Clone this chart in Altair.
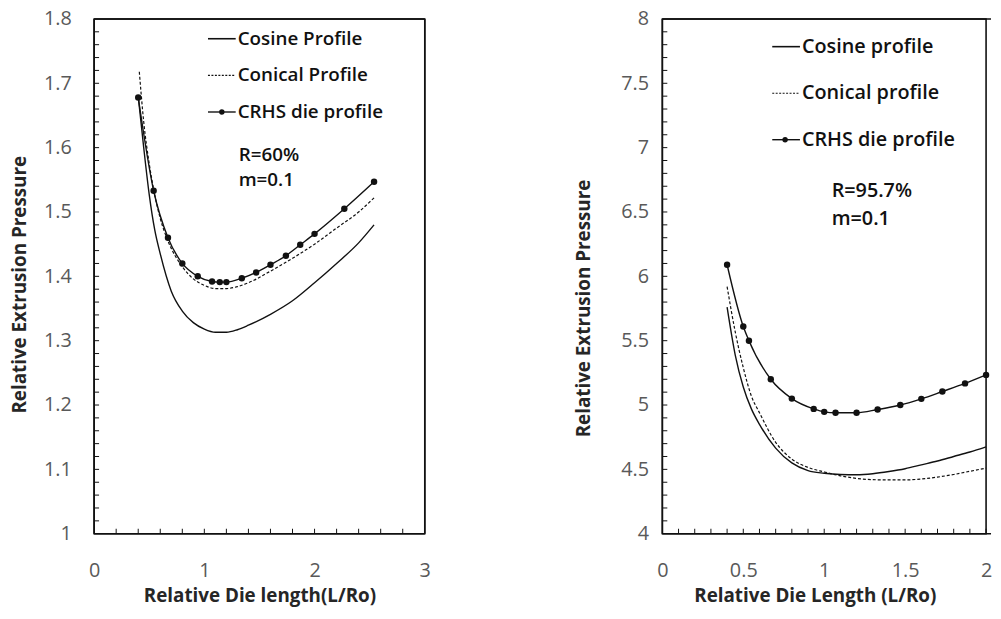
import altair as alt
import pandas as pd

# ---------------- Left panel (R=60%, m=0.1) ----------------
L_cos_x = [0.40, 0.45, 0.50, 0.55, 0.60, 0.70, 0.80, 0.90, 1.00, 1.10, 1.20, 1.30, 1.40, 1.60, 1.80, 2.00, 2.20, 2.40, 2.54]
L_cos_y = [1.680, 1.600, 1.527, 1.472, 1.435, 1.377, 1.346, 1.328, 1.318, 1.313, 1.313, 1.317, 1.324, 1.341, 1.362, 1.390, 1.420, 1.452, 1.480]

L_con_x = [0.41, 0.45, 0.50, 0.54, 0.60, 0.67, 0.80, 0.90, 1.00, 1.10, 1.20, 1.30, 1.40, 1.60, 1.80, 2.00, 2.20, 2.40, 2.54]
L_con_y = [1.718, 1.640, 1.575, 1.535, 1.490, 1.455, 1.415, 1.396, 1.386, 1.381, 1.381, 1.384, 1.390, 1.408, 1.428, 1.450, 1.475, 1.500, 1.522]

L_crhs_x = [0.40, 0.54, 0.67, 0.80, 0.94, 1.07, 1.14, 1.20, 1.34, 1.47, 1.60, 1.74, 1.87, 2.00, 2.27, 2.54]
L_crhs_y = [1.678, 1.533, 1.460, 1.420, 1.400, 1.392, 1.391, 1.391, 1.397, 1.406, 1.418, 1.432, 1.449, 1.466, 1.505, 1.547]

L_xlabels = [0, 1, 2, 3]
L_ylabels = [1.0, 1.1, 1.2, 1.3, 1.4, 1.5, 1.6, 1.7, 1.8]
L_xminor = [0.2, 0.4, 0.6, 0.8, 1.0, 1.2, 1.4, 1.6, 1.8, 2.0, 2.2, 2.4, 2.6, 2.8]
L_yminor = [1.02, 1.04, 1.06, 1.08, 1.10, 1.12, 1.14, 1.16, 1.18, 1.20, 1.22, 1.24, 1.26, 1.28,
            1.30, 1.32, 1.34, 1.36, 1.38, 1.40, 1.42, 1.44, 1.46, 1.48, 1.50, 1.52, 1.54, 1.56,
            1.58, 1.60, 1.62, 1.64, 1.66, 1.68, 1.70, 1.72, 1.74, 1.76, 1.78]
L_legend = ["Cosine Profile", "Conical Profile", "CRHS die profile"]
L_note = ["R=60%", "m=0.1"]

# ---------------- Right panel (R=95.7%, m=0.1) ----------------
R_cos_x = [0.40, 0.45, 0.50, 0.55, 0.60, 0.70, 0.80, 0.90, 1.00, 1.10, 1.20, 1.30, 1.40, 1.50, 1.60, 1.70, 1.80, 1.90, 2.00]
R_cos_y = [5.76, 5.39, 5.14, 4.97, 4.85, 4.665, 4.55, 4.49, 4.47, 4.46, 4.458, 4.466, 4.483, 4.505, 4.535, 4.565, 4.60, 4.635, 4.675]

R_con_x = [0.40, 0.45, 0.50, 0.55, 0.60, 0.70, 0.80, 0.90, 1.00, 1.10, 1.20, 1.30, 1.40, 1.50, 1.60, 1.70, 1.80, 1.90, 2.00]
R_con_y = [5.92, 5.57, 5.29, 5.07, 4.94, 4.71, 4.58, 4.515, 4.48, 4.45, 4.43, 4.42, 4.418, 4.418, 4.425, 4.44, 4.46, 4.485, 4.51]

R_crhs_x = [0.40, 0.50, 0.535, 0.67, 0.80, 0.935, 1.00, 1.07, 1.20, 1.33, 1.47, 1.60, 1.73, 1.87, 2.00]
R_crhs_y = [6.09, 5.61, 5.50, 5.20, 5.05, 4.97, 4.947, 4.94, 4.94, 4.965, 5.00, 5.048, 5.105, 5.168, 5.234]

R_xlabels = [0, 0.5, 1, 1.5, 2]
R_ylabels = [4, 4.5, 5, 5.5, 6, 6.5, 7, 7.5, 8]
R_xminor = [0.1, 0.2, 0.3, 0.4, 0.5, 0.6, 0.7, 0.8, 0.9, 1.0, 1.1, 1.2, 1.3, 1.4, 1.5, 1.6, 1.7, 1.8, 1.9, 2.0]
R_yminor = [4.1, 4.2, 4.3, 4.4, 4.5, 4.6, 4.7, 4.8, 4.9, 5.0, 5.1, 5.2, 5.3, 5.4, 5.5, 5.6, 5.7, 5.8, 5.9,
            6.0, 6.1, 6.2, 6.3, 6.4, 6.5, 6.6, 6.7, 6.8, 6.9, 7.0, 7.1, 7.2, 7.3, 7.4, 7.5, 7.6, 7.7, 7.8, 7.9]
R_legend = ["Cosine profile", "Conical profile", "CRHS die profile"]
R_note = ["R=95.7%", "m=0.1"]

FONT = "Open Sans"
INK = "#111111"


def panel(cos_x, cos_y, con_x, con_y, crhs_x, crhs_y,
          xdom, ydom, xlabels, ylabels, xminor, yminor,
          xtitle, ytitle, legend, note, w, h, lay):
    xs = alt.Scale(domain=xdom, nice=False, zero=False)
    ys = alt.Scale(domain=ydom, nice=False, zero=False)
    xaxis = alt.Axis(values=xlabels, format="~g", title=xtitle, grid=False, ticks=False, tickSize=0,
                     domain=False, labelPadding=lay["xlp"], titlePadding=lay["xtp"],
                     labelFont=FONT, labelFontSize=20, labelColor="#595959",
                     titleFont=FONT, titleFontSize=19, titleFontWeight="bold", titleColor="#262626",
                     labelFlush=False, titleX=lay["xtx"])
    yaxis = alt.Axis(values=ylabels, format="~g", title=ytitle, grid=False, ticks=False, tickSize=0,
                     domain=False, labelPadding=lay["ylp"], titlePadding=lay["ytp"],
                     labelFont=FONT, labelFontSize=20, labelColor="#595959",
                     titleFont=FONT, titleFontSize=19, titleFontWeight="bold", titleColor="#262626",
                     labelFlush=False, titleY=lay["yty"])
    X = alt.X("x:Q", scale=xs, axis=xaxis)
    Y = alt.Y("y:Q", scale=ys, axis=yaxis)

    cos_df = pd.DataFrame({"x": cos_x, "y": cos_y})
    con_df = pd.DataFrame({"x": con_x, "y": con_y})
    crhs_df = pd.DataFrame({"x": crhs_x, "y": crhs_y})

    cos_line = alt.Chart(cos_df).mark_line(color=INK, strokeWidth=1.4, interpolate="monotone").encode(x=X, y=Y)
    con_line = alt.Chart(con_df).mark_line(color=INK, strokeWidth=1.2, strokeDash=[3, 2],
                                           interpolate="monotone").encode(x=X, y=Y)
    crhs_line = alt.Chart(crhs_df).mark_line(color=INK, strokeWidth=1.4, interpolate="monotone").encode(x=X, y=Y)
    crhs_pts = alt.Chart(crhs_df).mark_point(filled=True, color=INK, size=42, opacity=1).encode(x=X, y=Y)

    # inward minor ticks
    xt = alt.Chart(pd.DataFrame({"x": xminor})).mark_rule(color=INK, strokeWidth=1).encode(
        x=X, y=alt.value(h), y2=alt.value(h - 5))
    yt = alt.Chart(pd.DataFrame({"y": yminor})).mark_rule(color=INK, strokeWidth=1).encode(
        y=Y, x=alt.value(0), x2=alt.value(5))

    # plot frame
    one = pd.DataFrame({"k": [0]})
    fr = lay["frame_right"]
    frame = [
        alt.Chart(one).mark_rule(color=INK, strokeWidth=1.6).encode(
            x=alt.value(0), x2=alt.value(fr), y=alt.value(0)),
        alt.Chart(one).mark_rule(color=INK, strokeWidth=1.6).encode(
            x=alt.value(0), x2=alt.value(fr), y=alt.value(h)),
        alt.Chart(one).mark_rule(color=INK, strokeWidth=1.6).encode(
            x=alt.value(0), y=alt.value(0), y2=alt.value(h)),
    ]
    if lay["right_border"]:
        frame.append(alt.Chart(one).mark_rule(color=INK, strokeWidth=1.6).encode(
            x=alt.value(w), y=alt.value(0), y2=alt.value(h)))

    # legend drawn inside the plot
    lx0, lx1, tx = lay["lx0"], lay["lx1"], lay["tx"]
    ly = lay["ly"]
    fs = lay["lfs"]
    leg = []
    leg.append(alt.Chart(one).mark_rule(color=INK, strokeWidth=1.6).encode(
        x=alt.value(lx0), x2=alt.value(lx1), y=alt.value(ly[0])))
    leg.append(alt.Chart(one).mark_rule(color=INK, strokeWidth=1.1, strokeDash=[2, 1.5]).encode(
        x=alt.value(lx0), x2=alt.value(lx1), y=alt.value(ly[1])))
    leg.append(alt.Chart(one).mark_rule(color=INK, strokeWidth=1.4).encode(
        x=alt.value(lx0), x2=alt.value(lx1), y=alt.value(ly[2])))
    leg.append(alt.Chart(one).mark_point(filled=True, color=INK, size=30, opacity=1).encode(
        x=alt.value(lay["mx"]), y=alt.value(ly[2])))
    for i, lab in enumerate(legend):
        leg.append(alt.Chart(pd.DataFrame({"t": [lab]})).mark_text(
            align="left", baseline="middle", font=FONT, fontSize=fs, fontWeight=600, color=INK).encode(
            text="t:N", x=alt.value(tx), y=alt.value(ly[i])))
    for i, lab in enumerate(note):
        leg.append(alt.Chart(pd.DataFrame({"t": [lab]})).mark_text(
            align="left", baseline="middle", font=FONT, fontSize=fs, fontWeight=600, color=INK).encode(
            text="t:N", x=alt.value(lay["nx"]), y=alt.value(lay["ny"][i])))

    return alt.layer(cos_line, con_line, crhs_line, crhs_pts, xt, yt, *frame, *leg).properties(
        width=w, height=h)


left = panel(L_cos_x, L_cos_y, L_con_x, L_con_y, L_crhs_x, L_crhs_y,
             [0, 3], [1.0, 1.8], L_xlabels, L_ylabels, L_xminor, L_yminor,
             "Relative Die length(L/Ro)", "Relative Extrusion Pressure", L_legend, L_note,
             334, 520,
             dict(xlp=27, xtp=6, ylp=23, ytp=14, xtx=167, yty=268,
                  lx0=115, lx1=143, tx=145, ly=[20, 57, 94], mx=129, lfs=19,
                  nx=146, ny=[137, 163], frame_right=334, right_border=True))

right = panel(R_cos_x, R_cos_y, R_con_x, R_con_y, R_crhs_x, R_crhs_y,
              [0, 2], [4, 8], R_xlabels, R_ylabels, R_xminor, R_yminor,
              "Relative Die Length (L/Ro)", "Relative Extrusion Pressure", R_legend, R_note,
              327, 520,
              dict(xlp=27, xtp=6, ylp=14, ytp=27, xtx=154, yty=292,
                   lx0=111, lx1=139, tx=141, ly=[28, 75, 122], mx=124, lfs=20,
                   nx=171, ny=[174, 202], frame_right=332, right_border=False))

chart = alt.hconcat(left, right, spacing=144).properties(
    padding={"left": 2, "top": -3, "right": 0, "bottom": 0},
    background="white"
).configure_view(stroke="black", strokeWidth=1.5)

chart.save("out.html", embed_options={"renderer": "svg", "actions": False})
